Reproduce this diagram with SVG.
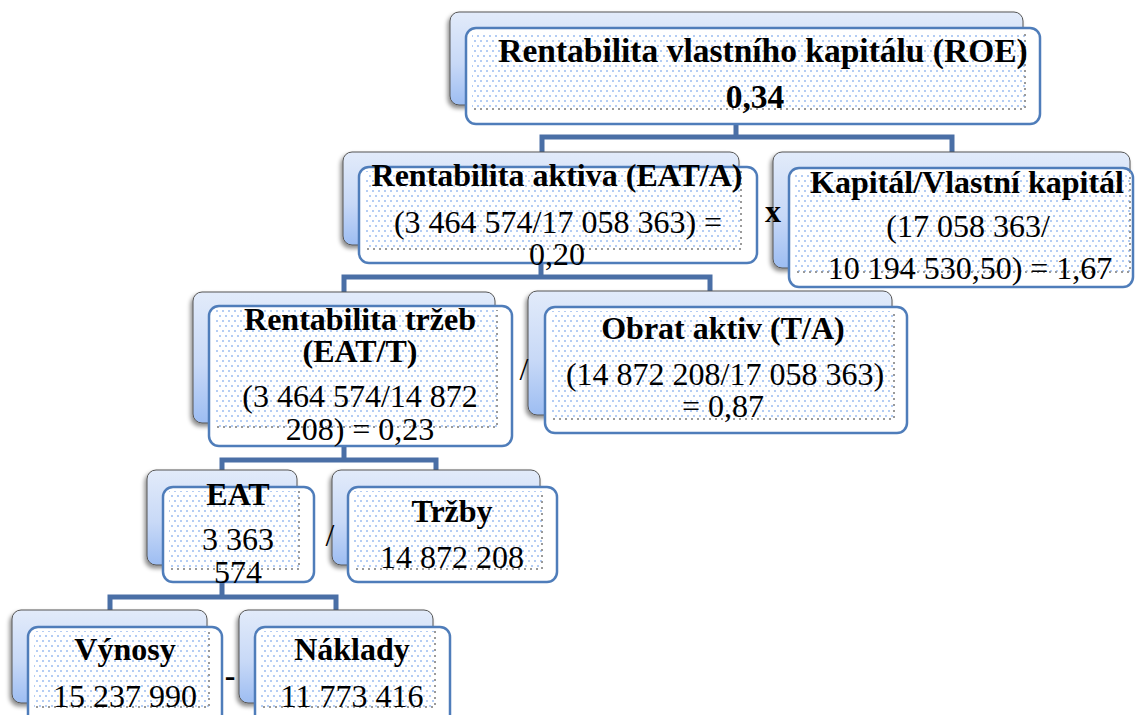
<svg xmlns="http://www.w3.org/2000/svg" width="1137" height="715" viewBox="0 0 1137 715">
<defs>
<linearGradient id="bg" x1="0" y1="0" x2="0" y2="1">
<stop offset="0" stop-color="#e2ebfa"/>
<stop offset="0.55" stop-color="#c8d9f7"/>
<stop offset="1" stop-color="#9dbdf2"/>
</linearGradient>
<pattern id="dots" width="6" height="10" patternUnits="userSpaceOnUse">
<rect width="6" height="10" fill="#ffffff"/>
<rect x="0" y="0" width="2" height="2" fill="#b4cdf4"/>
<rect x="3" y="5" width="2" height="2" fill="#b4cdf4"/>
</pattern>
<filter id="sh" x="-10%" y="-10%" width="120%" height="130%">
<feDropShadow dx="-2" dy="3" stdDeviation="2" flood-color="#000" flood-opacity="0.45"/>
</filter>
</defs>
<style>
.back{fill:url(#bg);stroke:#555;stroke-width:1;filter:url(#sh)}
.front{fill:#fff;stroke:#4f7dba;stroke-width:2.5}
.dots{fill:url(#dots)}
.edge{fill:none;stroke:#9a9a9a;stroke-width:2;stroke-dasharray:2 4}
.conn{fill:none;stroke:#4a6fa6;stroke-width:5}
text{font-family:'Liberation Serif','DejaVu Serif',serif;font-size:32px;fill:#000;text-anchor:middle}
.b{font-weight:bold}
.big{font-size:33.5px}
</style>
<g id="connectors">
<path class="conn" d="M736,105 V137 M542,152 V137 H952 V152"/>
<path class="conn" d="M541,245 V277 M344,292 V277 H710 V291"/>
<path class="conn" d="M344,423 V460 M222,470 V460 H436 V470"/>
<path class="conn" d="M222,565 V597 M110,610 V597 H336 V610"/>
</g>
<g id="node-roe">
<rect class="back" x="450" y="12" width="573" height="93" rx="9"/>
<rect class="front" x="466" y="28" width="574" height="96" rx="10"/>
<rect class="dots" x="472" y="32" width="553" height="77"/>
<path class="edge" d="M474,109 H1025 V32"/>
<text class="b big" x="763" y="62">Rentabilita vlastního kapitálu (ROE)</text>
<text class="b big" x="755" y="108">0,34</text>
</g>
<g id="node-ra">
<rect class="back" x="343" y="152" width="396" height="93" rx="9"/>
<rect class="front" x="359" y="167" width="398" height="96" rx="10"/>
<rect class="dots" x="365" y="171" width="376" height="78"/>
<path class="edge" d="M367,249 H741 V171"/>
<text class="b" x="557" y="186">Rentabilita aktiva (EAT/A)</text>
<text x="558" y="233">(3 464 574/17 058 363) =</text>
<text x="557" y="265">0,20</text>
</g>
<g id="node-kvk">
<rect class="back" x="773" y="152" width="357" height="116" rx="9"/>
<rect class="front" x="789" y="168" width="344" height="119" rx="10"/>
<rect class="dots" x="795" y="172" width="335" height="100"/>
<path class="edge" d="M797,272 H1130 V172"/>
<text class="b" x="967" y="193">Kapitál/Vlastní kapitál</text>
<text x="968" y="237">(17 058 363/</text>
<text x="970" y="279">10 194 530,50) = 1,67</text>
</g>
<text class="b" x="773" y="222">x</text>
<g id="node-rt">
<rect class="back" x="193" y="292" width="302" height="131" rx="9"/>
<rect class="front" x="209" y="306" width="303" height="140" rx="10"/>
<rect class="dots" x="215" y="310" width="282" height="117"/>
<path class="edge" d="M217,427 H497 V310"/>
<text class="b" x="360" y="330">Rentabilita tržeb</text>
<text class="b" x="360" y="362">(EAT/T)</text>
<text x="360" y="407">(3 464 574/14 872</text>
<text x="360" y="440">208) = 0,23</text>
</g>
<g id="node-oa">
<rect class="back" x="528" y="291" width="364" height="124" rx="9"/>
<rect class="front" x="545" y="307" width="362" height="126" rx="10"/>
<rect class="dots" x="551" y="311" width="343" height="108"/>
<path class="edge" d="M553,419 H894 V311"/>
<text class="b" x="723" y="339">Obrat aktiv (T/A)</text>
<text x="725" y="385">(14 872 208/17 058 363)</text>
<text x="723" y="417">= 0,87</text>
</g>
<text x="524" y="380">/</text>
<g id="node-eat">
<rect class="back" x="147" y="470" width="150" height="95" rx="9"/>
<rect class="front" x="163" y="487" width="151" height="95" rx="10"/>
<rect class="dots" x="169" y="491" width="130" height="78"/>
<path class="edge" d="M171,569 H299 V491"/>
<text class="b" x="238" y="505">EAT</text>
<text x="238" y="550">3 363</text>
<text x="238" y="583">574</text>
</g>
<g id="node-trzby">
<rect class="back" x="332" y="470" width="208" height="95" rx="9"/>
<rect class="front" x="348" y="487" width="209" height="95" rx="10"/>
<rect class="dots" x="354" y="491" width="188" height="78"/>
<path class="edge" d="M356,569 H542 V491"/>
<text class="b" x="452" y="522">Tržby</text>
<text x="452" y="568">14 872 208</text>
</g>
<text x="330" y="546">/</text>
<g id="node-vynosy">
<rect class="back" x="12" y="610" width="195" height="93" rx="9"/>
<rect class="front" x="28" y="627" width="194" height="98" rx="10"/>
<rect class="dots" x="34" y="631" width="175" height="76"/>
<path class="edge" d="M36,707 H209 V631"/>
<text class="b" x="125" y="660">Výnosy</text>
<text x="125" y="707">15 237 990</text>
</g>
<g id="node-naklady">
<rect class="back" x="239" y="610" width="194" height="93" rx="9"/>
<rect class="front" x="255" y="627" width="195" height="98" rx="10"/>
<rect class="dots" x="261" y="631" width="174" height="76"/>
<path class="edge" d="M263,707 H435 V631"/>
<text class="b" x="352" y="660">Náklady</text>
<text x="352" y="707">11 773 416</text>
</g>
<text class="b" x="230" y="686">-</text>
</svg>
